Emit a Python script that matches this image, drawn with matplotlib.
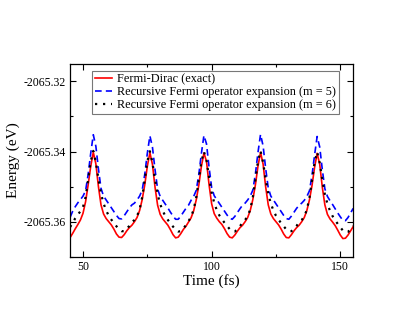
import numpy as np
import matplotlib
matplotlib.use("Agg")
import matplotlib.pyplot as plt
from matplotlib.ticker import FormatStrFormatter, MultipleLocator

plt.rcParams['font.family'] = ['Liberation Serif', 'DejaVu Serif']
plt.rcParams['axes.unicode_minus'] = False

# time (fs), one sample per fs
time = np.arange(45, 156)

# Fermi-Dirac (exact)
e_exact = [
    -2065.3645, -2065.3633, -2065.3620, -2065.3608, -2065.3595, -2065.3576, -2065.3543, -2065.3495, -2065.3442,
    -2065.3402,
    -2065.3435, -2065.3500, -2065.3552, -2065.3578, -2065.3591, -2065.3600, -2065.3609, -2065.3621, -2065.3635,
    -2065.3644, -2065.3645, -2065.3637, -2065.3626, -2065.3617, -2065.3610, -2065.3600, -2065.3588, -2065.3568,
    -2065.3537, -2065.3495, -2065.3442,
    -2065.3403,
    -2065.3437, -2065.3502, -2065.3553, -2065.3579, -2065.3592, -2065.3601, -2065.3610, -2065.3623, -2065.3637,
    -2065.3646, -2065.3644, -2065.3634, -2065.3622, -2065.3613, -2065.3601, -2065.3589, -2065.3569, -2065.3538,
    -2065.3496, -2065.3443,
    -2065.3404,
    -2065.3428, -2065.3495, -2065.3549, -2065.3577, -2065.3590, -2065.3600, -2065.3608, -2065.3620, -2065.3634,
    -2065.3644, -2065.3646, -2065.3638, -2065.3627, -2065.3617, -2065.3610, -2065.3600, -2065.3588, -2065.3568,
    -2065.3537, -2065.3495, -2065.3442,
    -2065.3402,
    -2065.3436, -2065.3501, -2065.3552, -2065.3578, -2065.3591, -2065.3600, -2065.3609, -2065.3621, -2065.3635,
    -2065.3645, -2065.3646, -2065.3637, -2065.3626, -2065.3617, -2065.3610, -2065.3600, -2065.3588, -2065.3568,
    -2065.3538, -2065.3497, -2065.3445,
    -2065.3405,
    -2065.3436, -2065.3501, -2065.3552, -2065.3579, -2065.3592, -2065.3601, -2065.3611, -2065.3624, -2065.3638,
    -2065.3648, -2065.3647, -2065.3638, -2065.3626, -2065.3614,
]

# recursive expansion, m = 5
e_m5 = [
    -2065.3587, -2065.3570, -2065.3557, -2065.3546, -2065.3537, -2065.3527, -2065.3512, -2065.3465, -2065.3405,
    -2065.3352,
    -2065.3385, -2065.3450, -2065.3505, -2065.3527, -2065.3538, -2065.3549, -2065.3560, -2065.3571, -2065.3582,
    -2065.3591, -2065.3592, -2065.3583, -2065.3572, -2065.3561, -2065.3552, -2065.3547, -2065.3538, -2065.3527,
    -2065.3510, -2065.3465, -2065.3405,
    -2065.3355,
    -2065.3388, -2065.3452, -2065.3507, -2065.3528, -2065.3539, -2065.3550, -2065.3561, -2065.3573, -2065.3584,
    -2065.3593, -2065.3593, -2065.3584, -2065.3573, -2065.3562, -2065.3553, -2065.3539, -2065.3528, -2065.3511,
    -2065.3466, -2065.3406,
    -2065.3354,
    -2065.3378, -2065.3445, -2065.3503, -2065.3526, -2065.3537, -2065.3548, -2065.3559, -2065.3570, -2065.3581,
    -2065.3590, -2065.3593, -2065.3585, -2065.3574, -2065.3563, -2065.3553, -2065.3547, -2065.3538, -2065.3527,
    -2065.3510, -2065.3464, -2065.3403,
    -2065.3351,
    -2065.3384, -2065.3449, -2065.3504, -2065.3527, -2065.3538, -2065.3549, -2065.3560, -2065.3571, -2065.3582,
    -2065.3591, -2065.3593, -2065.3584, -2065.3573, -2065.3562, -2065.3553, -2065.3547, -2065.3539, -2065.3528,
    -2065.3512, -2065.3468, -2065.3410,
    -2065.3357,
    -2065.3387, -2065.3451, -2065.3506, -2065.3528, -2065.3540, -2065.3551, -2065.3563, -2065.3575, -2065.3586,
    -2065.3596, -2065.3597, -2065.3588, -2065.3575, -2065.3562,
]

# recursive expansion, m = 6
e_m6 = [
    -2065.3615, -2065.3603, -2065.3590, -2065.3580, -2065.3570, -2065.3558, -2065.3530, -2065.3480, -2065.3428,
    -2065.3398,
    -2065.3430, -2065.3478, -2065.3520, -2065.3548, -2065.3568, -2065.3583, -2065.3594, -2065.3604, -2065.3613,
    -2065.3622, -2065.3627, -2065.3627, -2065.3620, -2065.3612, -2065.3601, -2065.3595, -2065.3584, -2065.3565,
    -2065.3530, -2065.3480, -2065.3428,
    -2065.3399,
    -2065.3432, -2065.3480, -2065.3522, -2065.3550, -2065.3569, -2065.3584, -2065.3595, -2065.3605, -2065.3614,
    -2065.3623, -2065.3628, -2065.3627, -2065.3619, -2065.3610, -2065.3599, -2065.3585, -2065.3566, -2065.3531,
    -2065.3481, -2065.3429,
    -2065.3400,
    -2065.3425, -2065.3474, -2065.3517, -2065.3546, -2065.3567, -2065.3582, -2065.3593, -2065.3603, -2065.3612,
    -2065.3621, -2065.3627, -2065.3628, -2065.3621, -2065.3613, -2065.3602, -2065.3595, -2065.3584, -2065.3565,
    -2065.3530, -2065.3480, -2065.3428,
    -2065.3398,
    -2065.3431, -2065.3479, -2065.3521, -2065.3548, -2065.3568, -2065.3583, -2065.3594, -2065.3604, -2065.3613,
    -2065.3622, -2065.3627, -2065.3627, -2065.3620, -2065.3612, -2065.3601, -2065.3595, -2065.3585, -2065.3566,
    -2065.3532, -2065.3482, -2065.3431,
    -2065.3401,
    -2065.3432, -2065.3480, -2065.3522, -2065.3549, -2065.3569, -2065.3584, -2065.3596, -2065.3606, -2065.3616,
    -2065.3625, -2065.3630, -2065.3629, -2065.3621, -2065.3612,
]

labels = ["Fermi-Dirac (exact)",
          "Recursive Fermi operator expansion (m = 5)",
          "Recursive Fermi operator expansion (m = 6)"]

fig = plt.figure(figsize=(4.15, 3.21), dpi=100)
ax = fig.add_axes([0.169, 0.200, 0.682, 0.601])

ax.plot(time, e_exact, color="red", lw=1.2, label=labels[0])
ax.plot(time, e_m5, color="blue", lw=1.2, linestyle=(0, (4, 2.5)), label=labels[1])
ax.plot(time, e_m6, color="black", lw=1.6, linestyle=(0, (1, 2.6)), label=labels[2])

ax.set_xlim(45, 155)
ax.set_ylim(-2065.37, -2065.315)
ax.xaxis.set_major_locator(MultipleLocator(50))
ax.xaxis.set_minor_locator(MultipleLocator(25))
ax.set_yticks([-2065.36, -2065.34, -2065.32])
ax.yaxis.set_minor_locator(MultipleLocator(0.01))
ax.yaxis.set_major_formatter(FormatStrFormatter('%.2f'))

ax.tick_params(which="both", direction="in", top=True, right=True, labelsize=8.5, pad=3)
ax.tick_params(which="major", length=4, width=0.8)
ax.tick_params(which="minor", length=2.5, width=0.8)
for s in ax.spines.values():
    s.set_linewidth(0.9)

ax.set_xlabel("Time (fs)", fontsize=11, labelpad=1)
ax.set_ylabel("Energy (eV)", fontsize=11, labelpad=3)

leg = ax.legend(loc="upper left", bbox_to_anchor=(0.077, 0.965), fontsize=8.8,
                frameon=True, fancybox=False, handlelength=1.4, handletextpad=0.4,
                labelspacing=0.05, borderpad=0.25, borderaxespad=0)
leg.get_frame().set_edgecolor("#555555")
leg.get_frame().set_linewidth(0.8)

fig.savefig("out.png", dpi=100)
